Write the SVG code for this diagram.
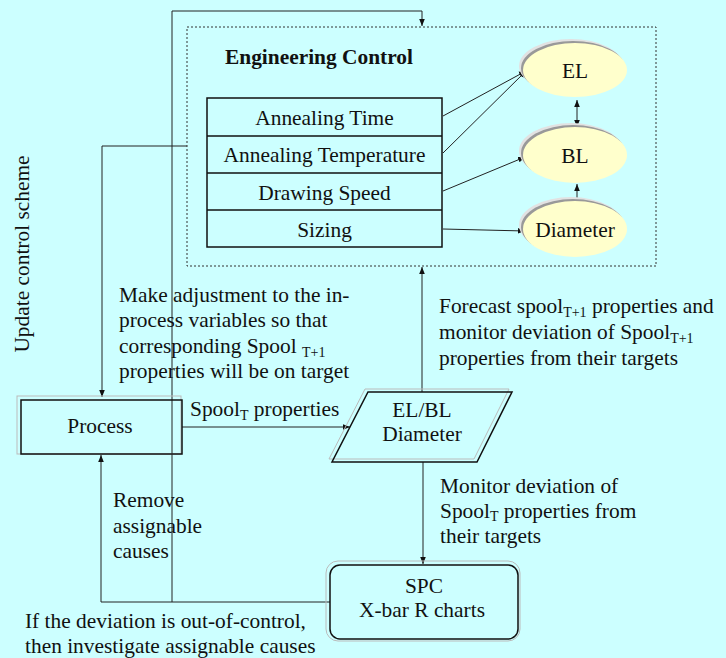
<svg xmlns="http://www.w3.org/2000/svg" width="726" height="658" viewBox="0 0 726 658">
<defs>
<marker id="ah" viewBox="0 0 10 10" refX="10" refY="5" markerWidth="7" markerHeight="7" orient="auto-start-reverse" markerUnits="userSpaceOnUse">
<path d="M0,1 L10,5 L0,9 z" fill="#111"/>
</marker>
<style>
text{font-family:"Liberation Serif","Times New Roman",serif;font-size:21.4px;fill:#111}
.c{text-anchor:middle}
.sub{font-size:14px}
.ln{fill:none;stroke:#222;stroke-width:1}
.arr{fill:none;stroke:#222;stroke-width:1;marker-end:url(#ah)}
.ell{fill:#FFFFCC}
.sh1{fill:#e2e2e2}
.sh2{fill:#999999}
.cell{fill:none;stroke:#111;stroke-width:1.5}
</style>
</defs>
<rect width="726" height="658" fill="#CCFFFF"/>

<g id="connectors">
<path class="arr" d="M172,602 L172,11 L422,11 L422,26"/>
<path class="arr" d="M187,146 L102,146 L102,397"/>
<path class="arr" d="M443,116 L526,71"/>
<path class="arr" d="M443,153 L526,71"/>
<path class="arr" d="M443,191 L525,157"/>
<path class="arr" d="M443,229 L525,231"/>
<path class="arr" d="M577,100 L577,127" marker-start="url(#ah)"/>
<path class="arr" d="M577,201 L577,184"/>
<path class="arr" d="M182,427 L350,427"/>
<path class="arr" d="M422,392 L422,267"/>
<path class="arr" d="M423,462 L423,564"/>
<path class="arr" d="M330,602 L101,602 L101,455"/>
</g>

<g id="engineering-control">
<rect x="187" y="27" width="469" height="239" fill="none" stroke="#333" stroke-width="1" stroke-dasharray="2,2"/>
<text x="225" y="64" style="font-weight:bold">Engineering Control</text>
</g>

<g id="variables">
<rect class="cell" x="207" y="98" width="235" height="149"/>
<line class="cell" x1="207" y1="136" x2="442" y2="136"/>
<line class="cell" x1="207" y1="173" x2="442" y2="173"/>
<line class="cell" x1="207" y1="210" x2="442" y2="210"/>
<text class="c" x="324.5" y="125">Annealing Time</text>
<text class="c" x="324.5" y="162">Annealing Temperature</text>
<text class="c" x="324.5" y="200">Drawing Speed</text>
<text class="c" x="324.5" y="237">Sizing</text>
</g>

<g id="EL">
<ellipse class="sh1" cx="571" cy="66" rx="52" ry="27"/>
<ellipse class="sh2" cx="573" cy="68" rx="52" ry="27"/>
<ellipse class="ell" cx="575" cy="70" rx="52" ry="27"/>
<text class="c" x="575" y="78">EL</text>
</g>
<g id="BL">
<ellipse class="sh1" cx="571" cy="151" rx="52" ry="28"/>
<ellipse class="sh2" cx="573" cy="153" rx="52" ry="28"/>
<ellipse class="ell" cx="575" cy="155" rx="52" ry="28"/>
<text class="c" x="575" y="163">BL</text>
</g>
<g id="Diameter">
<ellipse class="sh1" cx="571" cy="225" rx="52" ry="28"/>
<ellipse class="sh2" cx="573" cy="227" rx="52" ry="28"/>
<ellipse class="ell" cx="575" cy="229" rx="52" ry="28"/>
<text class="c" x="575" y="237">Diameter</text>
</g>

<g id="process">
<rect x="17" y="396" width="164" height="58" fill="none" stroke="#bbb" stroke-width="1"/>
<rect x="21" y="400" width="161" height="54" fill="none" stroke="#111" stroke-width="1.5"/>
<text class="c" x="100" y="433">Process</text>
</g>

<g id="measure">
<polygon points="365,389 509,389 474,459 329,459" fill="none" stroke="#bbb" stroke-width="1"/>
<polygon points="368,392 512,392 477,462 332,462" fill="none" stroke="#111" stroke-width="1.5"/>
<text class="c" x="422" y="417">EL/BL</text>
<text class="c" x="422" y="441">Diameter</text>
</g>

<g id="spc">
<rect x="326" y="561" width="194" height="80" rx="12" fill="none" stroke="#bbb" stroke-width="1"/>
<rect x="330" y="565" width="188" height="74" rx="10" fill="none" stroke="#111" stroke-width="1.5"/>
<text class="c" x="424" y="593">SPC</text>
<text class="c" x="422" y="617">X-bar R charts</text>
</g>

<g id="labels">
<text transform="translate(29,254) rotate(-90)" class="c">Update control scheme</text>
<text x="119" y="302">Make adjustment to the in-</text>
<text x="119" y="327">process variables so that</text>
<text x="119" y="353">corresponding Spool <tspan class="sub" dy="4">T+1</tspan></text>
<text x="119" y="378">properties will be on target</text>
<text x="190" y="416">Spool<tspan class="sub" dy="4">T</tspan><tspan dy="-4">  properties</tspan></text>
<text x="439" y="313">Forecast spool<tspan class="sub" dy="4">T+1</tspan><tspan dy="-4"> properties and</tspan></text>
<text x="439" y="339">monitor deviation of Spool<tspan class="sub" dy="4">T+1</tspan></text>
<text x="439" y="365">properties from their targets</text>
<text x="440" y="493">Monitor deviation of</text>
<text x="440" y="518">Spool<tspan class="sub" dy="3">T</tspan><tspan dy="-3"> properties from</tspan></text>
<text x="440" y="543">their targets</text>
<text x="113" y="507">Remove</text>
<text x="113" y="533">assignable</text>
<text x="113" y="558">causes</text>
<text x="25" y="628">If the deviation is out-of-control,</text>
<text x="25" y="653">then investigate assignable causes</text>
</g>
</svg>
